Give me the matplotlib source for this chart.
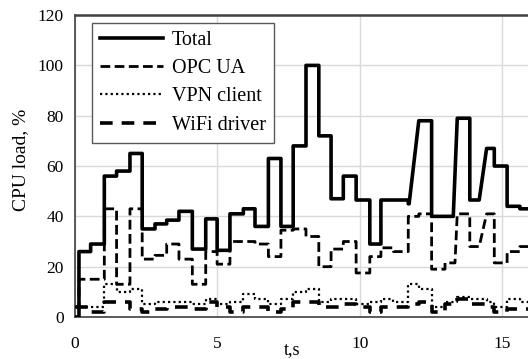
import matplotlib
matplotlib.use("Agg")
import matplotlib.pyplot as plt

plt.rcParams['font.family'] = ['Liberation Serif', 'DejaVu Serif']

# --- data ---
# times (s) where a new sampled level starts; shared by all four series
t_steps = [0, 0.14, 0.55, 1.03, 1.46, 1.93, 2.36, 2.81, 3.22, 3.65, 4.12, 4.59,
           4.99, 5.44, 5.91, 6.32, 6.79, 7.23, 7.66, 8.11, 8.56, 8.99, 9.42,
           9.87, 10.35, 10.74, 11.18, 11.70, 12.07, 12.52, 12.99, 13.42, 13.86,
           14.45, 14.72, 15.17, 15.62]
t_end = 16.2

total = [0, 26, 29, 56, 58, 65, 35, 37, 38.5, 42, 27, 39, 26.5, 41, 43, 36, 63,
         36, 68, 100, 72, 47, 56, 46.5, 29, 46.5, 46.5, 45, 78, 40, 40, 79,
         46.5, 67, 60, 44, 43]
opc_ua = [4, 15, 15, 43, 13, 43, 23, 24.5, 29, 23, 13, 26, 21, 30, 30, 29, 24,
          34.5, 35, 32, 20, 27, 30, 17.5, 24, 27.5, 26, 40, 41, 19, 21.5, 41,
          28, 41, 21.5, 26, 28]
vpn_client = [4, 4, 4, 13, 10, 11, 5, 6, 6, 6, 5, 7, 5, 6, 9, 7, 5, 7, 10, 11,
              6, 7, 7, 5, 6, 7, 6, 13, 11, 4, 6, 8, 7, 6, 4, 7, 6]
wifi_driver = [4, 4, 2, 6, 6, 3, 2, 3, 4, 4, 3, 6, 4, 2, 4, 4, 2, 3, 6, 6, 4, 4,
               5, 4, 2, 4, 4, 5, 6, 2, 5, 7, 5, 4, 2, 3, 3]

# some transitions are ramps rather than vertical jumps: {step time: ramp length}
ramps_total = {12.07: 0.34, 13.42: 0.14, 14.45: 0.26}
ramps_opc = {13.42: 0.08, 14.45: 0.26}


def step_xy(times, levels, ramps=None):
    ramps = ramps or {}
    xs, ys = [], []
    for i, (t, v) in enumerate(zip(times, levels)):
        if i > 0:
            xs.append(t - ramps.get(t, 0))
            ys.append(levels[i - 1])
        xs.append(t)
        ys.append(v)
    xs.append(t_end)
    ys.append(levels[-1])
    return xs, ys


fig = plt.figure(figsize=(5.28, 3.59), dpi=100)
ax = fig.add_axes([0.142, 0.117, 0.874, 0.841])

x, y = step_xy(t_steps, total, ramps_total)
ax.plot(x, y, color='black', lw=2.6, label='Total', zorder=5)
x, y = step_xy(t_steps, opc_ua, ramps_opc)
ax.plot(x, y, color='black', lw=2.0, dashes=(3.5, 1.6), label='OPC UA', zorder=4)
x, y = step_xy(t_steps, vpn_client)
ax.plot(x, y, color='black', lw=1.6, dashes=(1, 1.4), label='VPN client', zorder=3)
x, y = step_xy(t_steps, wifi_driver)
ax.plot(x, y, color='black', lw=2.6, dashes=(3.5, 2.5), label='WiFi driver', zorder=2)

ax.set_xlim(0, t_end)
ax.set_ylim(0, 120)
ax.set_xticks([0, 5, 10, 15])
ax.set_yticks(range(0, 121, 20))
ax.grid(True, color='#d9d9d9', lw=1)
ax.set_axisbelow(True)
ax.tick_params(length=0, labelsize=12.5)
ax.tick_params(axis='x', pad=14)
ax.tick_params(axis='y', pad=8)
for s in ax.spines.values():
    s.set_color('#404040')
    s.set_linewidth(1.2)
ax.spines['top'].set_linewidth(1.8)

ax.set_xlabel('t,s', fontsize=13)
ax.xaxis.set_label_coords(0.47, -0.08)
ax.set_ylabel('CPU load, %', fontsize=14)
ax.yaxis.set_label_coords(-0.10, 0.52)

leg = ax.legend(loc='upper left', bbox_to_anchor=(0.037, 0.974), borderaxespad=0,
                fontsize=14.5, handlelength=3.1, handletextpad=0.45,
                labelspacing=0.45, borderpad=0.4, fancybox=False, framealpha=1)
leg.get_frame().set_edgecolor('#595959')
leg.get_frame().set_linewidth(1.0)

fig.savefig('out.png', dpi=100)
